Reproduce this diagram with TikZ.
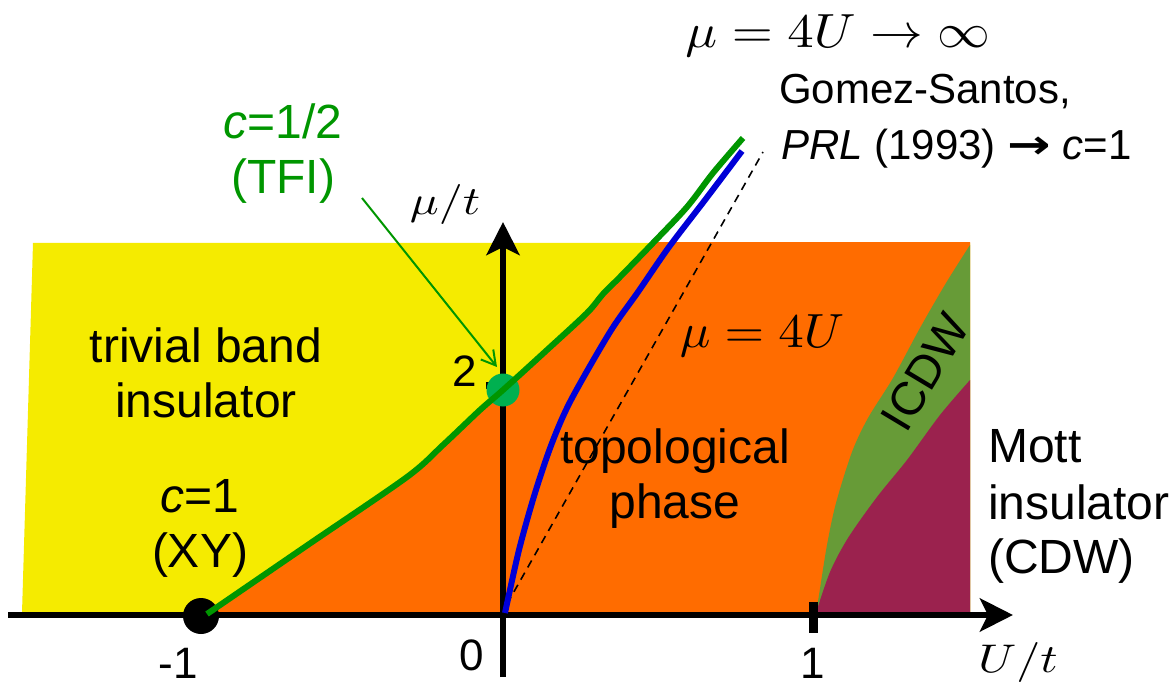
\documentclass[tikz,border=0pt]{standalone}
\usepackage{graphicx}
\usepackage{fontspec}
\newfontfamily\arial{Liberation Sans}
\newfontfamily\dejavu{DejaVu Sans}
\usetikzlibrary{arrows.meta}
\definecolor{yellowR}{RGB}{245,235,0}
\definecolor{orangeR}{RGB}{255,108,0}
\definecolor{icdwG}{RGB}{103,155,55}
\definecolor{mottP}{RGB}{155,34,78}
\definecolor{lineG}{RGB}{0,150,0}
\definecolor{dotG}{RGB}{0,176,80}
\definecolor{blueL}{RGB}{0,0,215}
\newcommand{\fsz}[1]{\fontsize{#1}{#1}\selectfont}
\begin{document}
\begin{tikzpicture}[x=1pt,y=-1pt,
  lab/.style={inner sep=0pt, anchor=base, font={\arial\fsz{48}}},
  labl/.style={inner sep=0pt, anchor=base west, font={\arial\fsz{48}}},
  ref/.style={inner sep=0pt, anchor=base west, font={\arial\fsz{42}}},
  ticklab/.style={inner sep=0pt, anchor=base, font={\arial\fsz{44}}},
  mathlab/.style={inner sep=0pt, anchor=base},
  axis/.style={line width=6.5pt, -{Stealth[length=33pt,width=33pt,inset=8pt]}},
  curve/.style={line width=6pt, line cap=round, line join=round},
]
\useasboundingbox (0,0) rectangle (1176,687);
% regions
\fill[yellowR] (33,243) -- (970,243) -- (970,613) -- (22,613) -- cycle;
\begin{scope}
\clip (0,243) rectangle (970,613);
\fill[orangeR] plot[smooth,tension=.5] coordinates {(207,614) (307,545.5) (407,477) (443,445) (480,410) (503,390) (547,350) (587,313) (603,294) (620,277) (653,243) (687,207) (713,173) (743,138)} -- (970,138) -- (970,613) -- (207,613) -- cycle;
\end{scope}
\fill[icdwG] plot[smooth,tension=.5] coordinates {(816,613) (819,595) (827,545) (836,503) (852,452) (868,418) (893,378) (920,328) (946,283) (970,245)} -- (970,613) -- cycle;
\fill[mottP] plot[smooth,tension=.5] coordinates {(816,613) (830,572) (848,538) (877,497) (907,460) (940,415) (970,380)} -- (970,613) -- cycle;
% axes
\coordinate (xs) at (8,615);
\coordinate (xe) at (1013,615);
\coordinate (ys) at (503,677);
\coordinate (ye) at (503,222);
\draw[axis] (xs) -- (xe);
\draw[axis] (ys) -- (ye);
\coordinate (t1a) at (813,602);
\coordinate (t1b) at (813,633);
\draw[line width=9pt] (t1a) -- (t1b);
\coordinate (t2a) at (486,385);
\coordinate (t2b) at (512,385);
\draw[line width=7pt] (t2a) -- (t2b);
% dashed and blue curves
\coordinate (d0) at (507,604);
\coordinate (d1) at (763,152);
\draw[line width=1.6pt, dash pattern=on 8pt off 6pt] (d0) -- (d1);
\draw[curve, blueL, line cap=butt] plot[smooth,tension=.5] coordinates {(505,613) (519,550) (535,493) (552,443) (571,400) (610,332) (638,292) (669,247) (705,200) (742,151)};
% dots
\node[circle, fill=black, inner sep=0pt, minimum size=36pt] (xy) at (201,616) {};
\node[circle, fill=dotG, inner sep=0pt, minimum size=33pt] (tfi) at (503,390) {};
% green line
\draw[curve, lineG, line cap=butt] plot[smooth,tension=.5] coordinates {(207,614) (307,545.5) (407,477) (443,445) (480,410) (503,390) (547,350) (587,313) (603,294) (620,277) (653,243) (687,207) (713,173) (743,138)};
% green arrow
\coordinate (aS) at (362,198);
\coordinate (aE) at (497,367);
\draw[lineG, line width=2pt, -{Straight Barb[length=14pt,width=16pt,line width=2pt]}] (aS) -- (aE);
% labels
\node[lab] (tb1) at (206,362) {trivial band};
\node[lab] (tb2) at (206,417) {insulator};
\node[lab] (xy1) at (200,512) {\textit{c}=1};
\node[lab] (xy2) at (200,567) {(XY)};
\node[lab, text=lineG] (tf1) at (283,139) {\textit{c}=1/2};
\node[lab, text=lineG] (tf2) at (283,194) {(TFI)};
\node[lab] (tp1) at (675,463) {topological};
\node[lab] (tp2) at (675,518) {phase};
\node[labl] (mo1) at (988,462) {Mott};
\node[labl] (mo2) at (988,519) {insulator};
\node[labl] (mo3) at (988,573) {(CDW)};
\node[inner sep=0pt, rotate=59, font={\arial\fsz{47}}] (icdw) at (925,372) {ICDW};
\node[ref] (gs1) at (779,104) {Gomez-Santos,};
\node[ref] (gs2) at (781,160) {\textit{PRL} (1993) \raisebox{1pt}{\scalebox{1.3}[1]{\dejavu\bfseries\fsz{40}→}} \textit{c}=1};
\node[mathlab] (mi) at (838,48) {\scalebox{5.28}[4.8]{$\mu=4U\rightarrow\infty$}};
\node[mathlab] (m4) at (762,347) {\scalebox{5.09}[4.8]{$\mu=4U$}};
\node[mathlab] (ya) at (445,215) {\scalebox{4.8}[4.0]{$\mu/t$}};
\node[mathlab] (xa) at (1018,672) {\scalebox{4.8}[4.0]{$U/t$}};
\node[ticklab] (l2) at (465,386) {2};
\node[ticklab] (lm1) at (178,678) {-1};
\node[ticklab] (l0) at (472,670) {0};
\node[ticklab] (l1) at (813,678) {1};
\end{tikzpicture}
\end{document}
